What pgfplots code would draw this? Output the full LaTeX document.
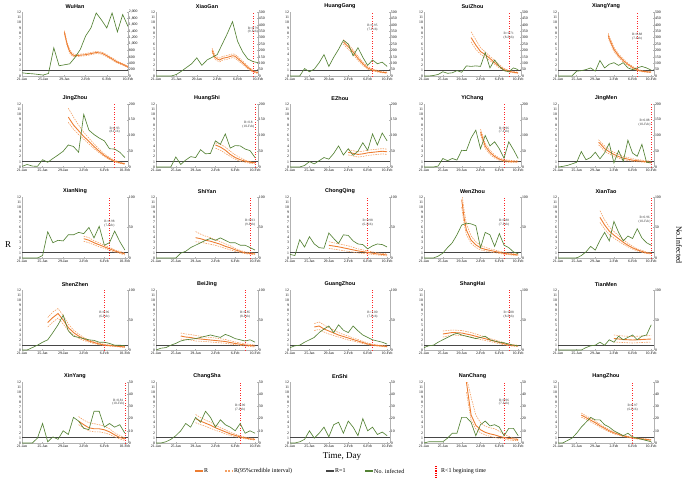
\documentclass[border=0pt]{standalone}
\usepackage{fontspec}
\setmainfont{Liberation Serif}
\newfontfamily\titlefont{Liberation Sans}
\usepackage{pgfplots}
\pgfplotsset{compat=1.18}
\definecolor{orR}{RGB}{237,125,49}
\definecolor{orC}{RGB}{243,160,100}
\definecolor{grn}{RGB}{84,130,53}
\definecolor{gry}{RGB}{70,70,70}
\tikzset{anno/.style={font=\fontsize{3.4}{3.8}\selectfont, align=center, text=black!80, inner sep=0.5pt}}
\pgfplotsset{
 cell/.style n args={4}{at={(#1bp,-#2bp)},width=#3bp,height=#4bp},
 base/.style={scale only axis, anchor=south west, xmin=0, xmax=20.6, clip mode=individual,
   /pgf/number format/assume math mode=true,
   tick label style={font=\fontsize{3.8}{4}\selectfont, inner sep=0.8pt},
   axis line style={gray!60, line width=0.3pt}, tick style={gray!60, line width=0.3pt}, major tick length=1.2pt},
 lax/.style={base, ymin=0, ymax=12, ytick={0,1,...,12}, axis y line*=left, axis x line*=bottom,
   xtick={0,4,8,12,16,20}, xticklabels={21-Jan,25-Jan,29-Jan,2-Feb,6-Feb,10-Feb},
   x tick label style={yshift=-0.8pt},
   title style={font=\titlefont\bfseries\fontsize{5.5}{6}\selectfont, inner sep=0pt, yshift=-3pt}},
 rax/.style={base, ymin=0, axis y line*=right, axis x line=none, xtick=\empty},
 one/.style={gry, line width=1pt},
 rr/.style={orR, line width=0.9pt},
 ci/.style={orC, dash pattern=on 1.5pt off 1pt, line width=0.6pt},
 gl/.style={grn, line width=0.65pt},
 rl/.style={red!85, dotted, line width=0.5pt},
}
\newcommand{\one}{\addplot[one] coordinates {(0,1)(20.6,1)};}
\newcommand{\redl}[3]{\addplot[rl] coordinates {(#1,0)(#1,12)};\node[anno] at (axis cs:#1,#2) {#3};}
\newcommand{\redlE}[3]{\addplot[rl] coordinates {(#1,0)(#1,12)};\node[anno, anchor=east] at (axis cs:#1,#2) {#3};}
\begin{document}
\begin{tikzpicture}
\useasboundingbox (0,0) rectangle (685bp,-480bp);
% ===== Row 1 =====
\begin{axis}[lax, cell={22}{76}{106}{64}, xmax=20, title=WuHan]
\one
\addplot[ci] coordinates {(8,8.5)(8.5,6.3)(9,4.9)(9.5,4.25)(10,4.0)(11,4.1)(12,4.2)(13,4.4)(14,4.6)(15,4.5)(16,4.0)(17,3.4)(18,2.8)(19,2.35)(20,1.85)};
\addplot[ci] coordinates {(8,7.9)(8.5,5.7)(9,4.3)(9.5,3.75)(10,3.6)(11,3.7)(12,3.8)(13,4.0)(14,4.2)(15,4.1)(16,3.6)(17,3.0)(18,2.4)(19,2.05)(20,1.55)};
\addplot[rr] coordinates {(8,8.2)(8.5,6.0)(9,4.6)(9.5,4.0)(10,3.8)(11,3.9)(12,4.0)(13,4.2)(14,4.4)(15,4.3)(16,3.8)(17,3.2)(18,2.6)(19,2.2)(20,1.7)};
\end{axis}
\begin{axis}[rax, cell={22}{76}{106}{64}, xmax=20, ymax=2000, ytick={0,200,...,2000}]
\addplot[gl] coordinates {(0,100)(1,80)(2,70)(3,50)(4,30)(5,80)(6,880)(7,320)(8,350)(9,380)(10,580)(11,830)(12,1250)(13,1500)(14,1970)(15,1750)(16,1500)(17,1970)(18,1380)(19,1920)(20,1550)};
\end{axis}

\begin{axis}[lax, cell={156}{76}{102}{64}, xmax=20, title=XiaoGan]
\one
\addplot[ci] coordinates {(11,5.2)(11.5,4.0)(12,3.55)(12.5,3.35)(13,3.65)(14,3.85)(15,4.15)(15.5,4.05)(16,3.65)(17,2.8)(18,1.85)(19,1.05)(20,0.75)};
\addplot[ci] coordinates {(11,4.4)(11.5,3.2)(12,2.85)(12.5,2.65)(13,2.95)(14,3.15)(15,3.45)(15.5,3.35)(16,2.95)(17,2.2)(18,1.35)(19,0.75)(20,0.45)};
\addplot[rr] coordinates {(11,4.8)(11.5,3.6)(12,3.2)(12.5,3.0)(13,3.3)(14,3.5)(15,3.8)(15.5,3.7)(16,3.3)(17,2.5)(18,1.6)(19,0.9)(20,0.6)};
\redl{19}{8.6}{R=0.79\\(9-Feb)}
\end{axis}
\begin{axis}[rax, cell={156}{76}{102}{64}, xmax=20, ymax=500, ytick={0,50,...,500}]
\addplot[gl] coordinates {(0,0)(1,0)(2,0)(3,0)(4,12)(5,38)(6,67)(7,96)(8,142)(9,83)(10,125)(11,146)(12,167)(13,250)(14,333)(15,425)(16,271)(17,188)(18,133)(19,113)(20,104)};
\end{axis}

\begin{axis}[lax, cell={290}{76}{100}{64}, title=HuangGang]
\one
\addplot[ci] coordinates {(11,6.8)(12,6.0)(13,4.9)(14,3.7)(15,2.6)(16,1.8)(17,1.3)(18,1.05)(19,0.85)(20,0.75)};
\addplot[ci] coordinates {(11,6.0)(12,5.0)(13,4.1)(14,2.9)(15,2.0)(16,1.3)(17,0.95)(18,0.75)(19,0.6)(20,0.5)};
\addplot[rr] coordinates {(11,6.4)(12,5.5)(13,4.5)(14,3.3)(15,2.3)(16,1.5)(17,1.1)(18,0.9)(19,0.7)(20,0.6)};
\redl{17}{9}{R=0.95\\(7-Feb)}
\end{axis}
\begin{axis}[rax, cell={290}{76}{100}{64}, ymax=500, ytick={0,50,...,500}]
\addplot[gl] coordinates {(0,0)(1,0)(2,0)(3,58)(4,33)(5,54)(6,104)(7,167)(8,75)(9,146)(10,208)(11,279)(12,250)(13,158)(14,221)(15,146)(16,83)(17,125)(18,96)(19,108)(20,75)};
\end{axis}

\begin{axis}[lax, cell={424}{76}{97}{64}, title=SuiZhou]
\one
\addplot[ci] coordinates {(10,8.3)(11,6.8)(12,5.3)(13,4.5)(14,3.7)(15,2.9)(16,2.1)(17,1.4)(18,1.05)(19,0.85)(20,0.7)};
\addplot[ci] coordinates {(10,6.4)(11,5.0)(12,4.1)(13,3.5)(14,2.9)(15,2.2)(16,1.5)(17,1.0)(18,0.75)(19,0.6)(20,0.5)};
\addplot[rr] coordinates {(10,7.2)(11,5.8)(12,4.6)(13,4.0)(14,3.3)(15,2.5)(16,1.8)(17,1.2)(18,0.9)(19,0.7)(20,0.6)};
\redl{18}{7.5}{R=0.71\\(8-Feb)}
\end{axis}
\begin{axis}[rax, cell={424}{76}{97}{64}, ymax=500, ytick={0,50,...,500}]
\addplot[gl] coordinates {(0,0)(1,0)(2,4)(3,12)(4,33)(5,21)(6,25)(7,42)(8,29)(9,79)(10,75)(11,79)(12,75)(13,183)(14,63)(15,125)(16,75)(17,42)(18,33)(19,63)(20,50)};
\end{axis}

\begin{axis}[lax, cell={558}{76}{96}{64}, title=XiangYang]
\one
\addplot[ci] coordinates {(10.8,8.0)(11,7.4)(12,5.4)(13,4.1)(14,3.2)(15,2.4)(16,1.8)(17,1.3)(18,1.0)(19,0.9)(20,0.8)};
\addplot[ci] coordinates {(10.8,7.2)(11,6.6)(12,4.6)(13,3.5)(14,2.6)(15,2.0)(16,1.4)(17,1.0)(18,0.8)(19,0.7)(20,0.6)};
\addplot[rr] coordinates {(10.8,7.6)(11,7.0)(12,5.0)(13,3.8)(14,2.9)(15,2.2)(16,1.6)(17,1.15)(18,0.9)(19,0.8)(20,0.7)};
\redl{17}{7.3}{R=0.88\\(7-Feb)}
\end{axis}
\begin{axis}[rax, cell={558}{76}{96}{64}, ymax=500, ytick={0,50,...,500}]
\addplot[gl] coordinates {(0,0)(1,0)(2,0)(3,0)(4,38)(5,42)(6,50)(7,63)(8,38)(9,121)(10,63)(11,92)(12,104)(13,83)(14,104)(15,63)(16,50)(17,63)(18,75)(19,63)(20,46)};
\end{axis}

% ===== Row 2 =====
\begin{axis}[lax, cell={22}{167}{106}{63}, title=JingZhou]
\one
\addplot[ci] coordinates {(9,11.2)(10,9.5)(11,8.0)(12,6.6)(13,5.5)(14,4.4)(15,3.4)(16,2.5)(17,1.8)(18,1.3)(19,0.9)(20,0.7)};
\addplot[ci] coordinates {(9,8.5)(10,7.2)(11,6.2)(12,5.3)(13,4.4)(14,3.5)(15,2.7)(16,2.0)(17,1.4)(18,1.0)(19,0.7)(20,0.5)};
\addplot[rr] coordinates {(9,9.5)(10,8.0)(11,6.9)(12,5.8)(13,4.9)(14,3.9)(15,3.0)(16,2.2)(17,1.6)(18,1.1)(19,0.8)(20,0.6)};
\redl{18}{7}{R=0.93\\(8-Feb)}
\end{axis}
\begin{axis}[rax, cell={22}{167}{106}{63}, ymax=200, ytick={0,50,...,200}]
\addplot[gl] coordinates {(0,2)(1,8)(2,3)(3,2)(4,23)(5,15)(6,27)(7,38)(8,50)(9,70)(10,65)(11,47)(12,167)(13,117)(14,103)(15,92)(16,83)(17,58)(18,57)(19,47)(20,30)};
\end{axis}

\begin{axis}[lax, cell={156}{167}{102}{63}, title=HuangShi]
\one
\addplot[ci] coordinates {(12,4.6)(13,4.3)(14,3.8)(15,3.0)(16,2.3)(17,1.8)(18,1.3)(19,1.0)(20,0.9)};
\addplot[ci] coordinates {(12,3.6)(13,3.2)(14,2.6)(15,2.0)(16,1.5)(17,1.1)(18,0.9)(19,0.7)(20,0.6)};
\addplot[rr] coordinates {(12,4.2)(13,3.8)(14,3.2)(15,2.4)(16,1.8)(17,1.4)(18,1.1)(19,0.9)(20,0.8)};
\redlE{20}{8}{R=0.8\\(10-Feb)}
\end{axis}
\begin{axis}[rax, cell={156}{167}{102}{63}, ymax=200, ytick={0,50,...,200}]
\addplot[gl] coordinates {(0,0)(1,0)(2,0)(3,0)(4,32)(5,8)(6,22)(7,33)(8,30)(9,55)(10,42)(11,43)(12,83)(13,72)(14,105)(15,60)(16,68)(17,67)(18,57)(19,52)(20,30)};
\end{axis}

\begin{axis}[lax, cell={290}{167}{100}{63}, title=EZhou]
\one
\addplot[ci] coordinates {(12,3.3)(13,3.1)(14,2.9)(15,3.0)(16,3.2)(17,3.3)(18,3.4)(19,3.5)(20,3.4)};
\addplot[ci] coordinates {(12,2.3)(13,2.1)(14,1.9)(15,2.0)(16,2.2)(17,2.3)(18,2.4)(19,2.5)(20,2.4)};
\addplot[rr] coordinates {(12,2.8)(13,2.6)(14,2.4)(15,2.5)(16,2.7)(17,2.8)(18,2.9)(19,3.0)(20,2.9)};
\end{axis}
\begin{axis}[rax, cell={290}{167}{100}{63}, ymax=200, ytick={0,50,...,200}]
\addplot[gl] coordinates {(0,0)(1,0)(2,0)(3,5)(4,17)(5,10)(6,20)(7,30)(8,25)(9,43)(10,67)(11,38)(12,58)(13,37)(14,50)(15,77)(16,53)(17,105)(18,70)(19,108)(20,83)};
\end{axis}

\begin{axis}[lax, cell={424}{167}{97}{63}, title=YiChang]
\one
\addplot[ci] coordinates {(12,7.2)(13,4.5)(14,3.2)(15,2.3)(16,1.7)(17,1.4)(18,1.3)(19,1.2)(20,1.2)};
\addplot[ci] coordinates {(12,6.2)(13,3.5)(14,2.4)(15,1.7)(16,1.3)(17,1.0)(18,0.9)(19,0.9)(20,0.9)};
\addplot[rr] coordinates {(12,6.7)(13,4.0)(14,2.8)(15,2.0)(16,1.5)(17,1.2)(18,1.1)(19,1.0)(20,1.0)};
\redl{17}{7}{R=0.96\\(7-Feb)}
\end{axis}
\begin{axis}[rax, cell={424}{167}{97}{63}, ymax=200, ytick={0,50,...,200}]
\addplot[gl] coordinates {(0,0)(1,0)(2,0)(3,3)(4,27)(5,20)(6,27)(7,22)(8,53)(9,52)(10,92)(11,117)(12,58)(13,100)(14,67)(15,80)(16,58)(17,28)(18,80)(19,55)(20,27)};
\end{axis}

\begin{axis}[lax, cell={558}{167}{96}{63}, title=JingMen]
\one
\addplot[ci] coordinates {(8.7,5.2)(9,4.9)(10,4.0)(11,3.3)(12,2.8)(13,2.4)(14,2.0)(15,1.8)(16,1.6)(17,1.4)(18,1.3)(19,1.2)(20,1.1)};
\addplot[ci] coordinates {(8.7,4.2)(9,4.0)(10,3.0)(11,2.5)(12,2.0)(13,1.7)(14,1.4)(15,1.25)(16,1.1)(17,1.0)(18,0.95)(19,0.85)(20,0.75)};
\addplot[rr] coordinates {(8.7,4.7)(9,4.5)(10,3.5)(11,2.9)(12,2.4)(13,2.0)(14,1.7)(15,1.5)(16,1.3)(17,1.2)(18,1.1)(19,1.0)(20,0.9)};
\redlE{20}{8.4}{R=0.88\\(10-Feb)}
\end{axis}
\begin{axis}[rax, cell={558}{167}{96}{63}, ymax=200, ytick={0,50,...,200}]
\addplot[gl] coordinates {(0,0)(1,2)(2,5)(3,10)(4,15)(5,49)(6,23)(7,30)(8,47)(9,26)(10,45)(11,75)(12,13)(13,52)(14,18)(15,85)(16,44)(17,34)(18,72)(19,15)(20,13)};
\end{axis}

% ===== Row 3 =====
\begin{axis}[lax, cell={22}{258}{106}{61}, title=XianNing]
\one
\addplot[ci] coordinates {(12,4.3)(13,4.0)(14,3.4)(15,3.0)(16,2.5)(17,2.1)(18,1.6)(19,1.3)(20,1.0)};
\addplot[ci] coordinates {(12,3.3)(13,3.0)(14,2.6)(15,2.2)(16,1.9)(17,1.5)(18,1.2)(19,0.9)(20,0.6)};
\addplot[rr] coordinates {(12,3.8)(13,3.5)(14,3.0)(15,2.6)(16,2.2)(17,1.8)(18,1.4)(19,1.1)(20,0.8)};
\redl{17}{6.8}{R=0.98\\(7-Feb)}
\end{axis}
\begin{axis}[rax, cell={22}{258}{106}{61}, ymax=100, ytick={0,50,100}]
\addplot[gl] coordinates {(0,0)(1,0)(2,0)(3,0)(4,4)(5,43)(6,25)(7,29)(8,28)(9,38)(10,38)(11,42)(12,40)(13,50)(14,33)(15,52)(16,21)(17,25)(18,44)(19,27)(20,13)};
\end{axis}

\begin{axis}[lax, cell={156}{258}{102}{61}, title=ShiYan]
\one
\addplot[ci] coordinates {(8,5.2)(9,4.7)(10,4.3)(11,4.0)(12,3.6)(13,3.2)(14,2.8)(15,2.4)(16,1.9)(17,1.5)(18,1.2)(19,1.05)(20,0.95)};
\addplot[ci] coordinates {(8,3.2)(9,3.1)(10,2.9)(11,2.7)(12,2.5)(13,2.2)(14,1.9)(15,1.6)(16,1.3)(17,1.1)(18,0.85)(19,0.75)(20,0.65)};
\addplot[rr] coordinates {(8,4.0)(9,3.8)(10,3.5)(11,3.3)(12,3.0)(13,2.7)(14,2.3)(15,2.0)(16,1.6)(17,1.3)(18,1.0)(19,0.9)(20,0.8)};
\redl{19}{7}{R=0.93\\(9-Feb)}
\end{axis}
\begin{axis}[rax, cell={156}{258}{102}{61}, ymax=100, ytick={0,50,100}]
\addplot[gl] coordinates {(0,0)(1,0)(2,0)(3,0)(4,0)(5,8)(6,11)(7,17)(8,21)(9,25)(10,29)(11,32)(12,29)(13,33)(14,29)(15,25)(16,25)(17,21)(18,21)(19,17)(20,13)};
\end{axis}

\begin{axis}[lax, cell={290}{258}{100}{61}, title=ChongQing]
\one
\addplot[ci] coordinates {(8,3.2)(10,2.8)(12,2.4)(14,1.8)(16,1.4)(18,1.0)(20,0.8)};
\addplot[ci] coordinates {(8,1.9)(10,1.6)(12,1.3)(14,1.0)(16,0.8)(18,0.6)(20,0.4)};
\addplot[rr] coordinates {(8,2.5)(10,2.2)(12,1.8)(14,1.4)(16,1.1)(18,0.8)(20,0.6)};
\redl{16}{7}{R=0.98\\(6-Feb)}
\end{axis}
\begin{axis}[rax, cell={290}{258}{100}{61}, ymax=100, ytick={0,50,100}]
\addplot[gl] coordinates {(0,6)(1,4)(2,30)(3,18)(4,35)(5,23)(6,17)(7,16)(8,41)(9,32)(10,24)(11,38)(12,37)(13,28)(14,23)(15,22)(16,15)(17,20)(18,23)(19,22)(20,18)};
\end{axis}

\begin{axis}[lax, cell={424}{258}{97}{61}, title=WenZhou]
\one
\addplot[ci] coordinates {(8,13)(8.5,9.5)(9,6.8)(10,4.3)(11,3.2)(12,2.5)(13,2.1)(14,1.8)(15,1.6)(16,1.3)(17,1.1)(18,0.95)(19,0.85)(20,0.75)};
\addplot[ci] coordinates {(8,10)(8.5,6.8)(9,4.6)(10,2.9)(11,2.1)(12,1.6)(13,1.4)(14,1.2)(15,1.05)(16,0.9)(17,0.75)(18,0.65)(19,0.55)(20,0.5)};
\addplot[rr] coordinates {(8,11.5)(8.5,8.0)(9,5.5)(10,3.5)(11,2.6)(12,2.0)(13,1.7)(14,1.5)(15,1.3)(16,1.1)(17,0.9)(18,0.8)(19,0.7)(20,0.6)};
\redl{17}{7}{R=0.88\\(7-Feb)}
\end{axis}
\begin{axis}[rax, cell={424}{258}{97}{61}, ymax=100, ytick={0,50,100}]
\addplot[gl] coordinates {(0,0)(1,0)(2,0)(3,3)(4,8)(5,17)(6,25)(7,38)(8,54)(9,57)(10,56)(11,53)(12,17)(13,42)(14,38)(15,19)(16,40)(17,21)(18,17)(19,10)(20,7)};
\end{axis}

\begin{axis}[lax, cell={558}{258}{96}{61}, title=XianTao]
\one
\addplot[ci] coordinates {(9,9.3)(10,7.5)(11,6.1)(12,5.2)(13,4.4)(14,3.6)(15,2.9)(16,2.3)(17,1.8)(18,1.5)(19,1.15)(20,1.0)};
\addplot[ci] coordinates {(9,7.0)(10,5.7)(11,4.6)(12,3.9)(13,3.3)(14,2.7)(15,2.2)(16,1.75)(17,1.4)(18,1.1)(19,0.87)(20,0.78)};
\addplot[rr] coordinates {(9,8.0)(10,6.5)(11,5.3)(12,4.5)(13,3.8)(14,3.1)(15,2.5)(16,2.0)(17,1.6)(18,1.3)(19,1.0)(20,0.9)};
\redlE{20}{7.5}{R=0.96\\(10-Feb)}
\end{axis}
\begin{axis}[rax, cell={558}{258}{96}{61}, ymax=100, ytick={0,50,100}]
\addplot[gl] coordinates {(0,0)(1,0)(2,0)(3,0)(4,0)(5,4)(6,10)(7,19)(8,13)(9,29)(10,42)(11,28)(12,60)(13,42)(14,28)(15,36)(16,32)(17,48)(18,33)(19,25)(20,21)};
\end{axis}

% ===== Row 4 =====
\begin{axis}[lax, cell={22}{350}{106}{60}, title=ShenZhen]
\one
\addplot[ci] coordinates {(5,6.5)(6,7.6)(7,8.3)(8,6.9)(9,5.2)(10,4.0)(11,3.2)(12,2.5)(13,2.0)(14,1.7)(15,1.35)(16,1.15)(17,1.0)(18,0.9)(19,0.8)(20,0.7)};
\addplot[ci] coordinates {(5,4.6)(6,5.6)(7,6.4)(8,5.2)(9,3.9)(10,3.0)(11,2.4)(12,1.9)(13,1.6)(14,1.3)(15,1.05)(16,0.88)(17,0.78)(18,0.7)(19,0.6)(20,0.5)};
\addplot[rr] coordinates {(5,5.5)(6,6.5)(7,7.3)(8,6.0)(9,4.5)(10,3.5)(11,2.8)(12,2.2)(13,1.8)(14,1.5)(15,1.2)(16,1.0)(17,0.9)(18,0.8)(19,0.7)(20,0.6)};
\redl{16}{7}{R=0.96\\(6-Feb)}
\end{axis}
\begin{axis}[rax, cell={22}{350}{106}{60}, ymax=100, ytick={0,50,100}]
\addplot[gl] coordinates {(0,0)(1,0)(2,4)(3,8)(4,13)(5,17)(6,29)(7,42)(8,58)(9,32)(10,23)(11,21)(12,19)(13,17)(14,16)(15,13)(16,13)(17,11)(18,8)(19,8)(20,7)};
\end{axis}

\begin{axis}[lax, cell={156}{350}{102}{60}, title=BeiJing]
\one
\addplot[ci] coordinates {(5,3.4)(6,3.2)(7,3.1)(8,2.9)(10,2.6)(12,2.4)(14,2.1)(16,1.6)(18,1.25)(20,1.0)};
\addplot[ci] coordinates {(5,2.2)(6,2.1)(7,2.0)(8,1.8)(10,1.7)(12,1.5)(14,1.35)(16,1.05)(18,0.8)(20,0.6)};
\addplot[rr] coordinates {(5,2.8)(6,2.6)(7,2.5)(8,2.3)(10,2.1)(12,1.9)(14,1.7)(16,1.3)(18,1.0)(20,0.8)};
\redl{18}{7}{R=0.85\\(8-Feb)}
\end{axis}
\begin{axis}[rax, cell={156}{350}{102}{60}, ymax=100, ytick={0,50,100}]
\addplot[gl] coordinates {(0,0)(1,3)(2,4)(3,8)(4,11)(5,15)(6,17)(7,18)(8,19)(9,21)(10,23)(11,25)(12,23)(13,21)(14,26)(15,23)(16,19)(17,17)(18,15)(19,17)(20,13)};
\end{axis}

\begin{axis}[lax, cell={290}{350}{100}{60}, title=GuangZhou]
\one
\addplot[ci] coordinates {(5,5.3)(6,5.6)(7,5.0)(8,4.5)(9,4.0)(10,3.5)(11,3.1)(12,2.8)(13,2.4)(14,2.1)(15,1.75)(16,1.4)(17,1.15)(18,1.0)(19,0.9)(20,0.8)};
\addplot[ci] coordinates {(5,3.9)(6,4.1)(7,3.6)(8,3.2)(9,2.9)(10,2.6)(11,2.3)(12,2.0)(13,1.8)(14,1.55)(15,1.3)(16,1.05)(17,0.88)(18,0.78)(19,0.7)(20,0.6)};
\addplot[rr] coordinates {(5,4.6)(6,4.8)(7,4.2)(8,3.8)(9,3.4)(10,3.0)(11,2.7)(12,2.4)(13,2.1)(14,1.8)(15,1.5)(16,1.2)(17,1.0)(18,0.9)(19,0.8)(20,0.7)};
\redl{17}{7}{R=1.00\\(7-Feb)}
\end{axis}
\begin{axis}[rax, cell={290}{350}{100}{60}, ymax=100, ytick={0,50,100}]
\addplot[gl] coordinates {(0,4)(1,7)(2,8)(3,13)(4,17)(5,21)(6,29)(7,35)(8,40)(9,29)(10,42)(11,33)(12,29)(13,40)(14,32)(15,25)(16,21)(17,17)(18,15)(19,13)(20,10)};
\end{axis}

\begin{axis}[lax, cell={424}{350}{97}{60}, title=ShangHai]
\one
\addplot[ci] coordinates {(4,3.8)(6,4.0)(8,3.9)(10,3.5)(12,2.9)(14,2.3)(16,1.75)(18,1.2)(20,0.95)};
\addplot[ci] coordinates {(4,2.6)(6,3.0)(8,2.9)(10,2.6)(12,2.1)(14,1.7)(16,1.25)(18,0.85)(20,0.65)};
\addplot[rr] coordinates {(4,3.2)(6,3.5)(8,3.4)(10,3.0)(12,2.5)(14,2.0)(16,1.5)(18,1.0)(20,0.8)};
\redl{18}{7}{R=0.88\\(8-Feb)}
\end{axis}
\begin{axis}[rax, cell={424}{350}{97}{60}, ymax=100, ytick={0,50,100}]
\addplot[gl] coordinates {(0,4)(1,7)(2,8)(3,13)(4,17)(5,21)(6,25)(7,28)(8,25)(9,23)(10,21)(11,19)(12,21)(13,23)(14,17)(15,15)(16,13)(17,12)(18,10)(19,8)(20,7)};
\end{axis}

\begin{axis}[lax, cell={558}{350}{96}{60}, title=TianMen]
\one
\addplot[ci] coordinates {(12,3.0)(14,2.8)(16,2.7)(18,2.8)(20,2.9)};
\addplot[ci] coordinates {(12,1.6)(14,1.5)(16,1.4)(18,1.5)(20,1.6)};
\addplot[rr] coordinates {(12,2.3)(14,2.1)(16,2.0)(18,2.1)(20,2.2)};
\end{axis}
\begin{axis}[rax, cell={558}{350}{96}{60}, ymax=100, ytick={0,50,100}]
\addplot[gl] coordinates {(0,0)(1,0)(2,0)(3,0)(4,0)(5,0)(6,4)(7,7)(8,8)(9,13)(10,8)(11,17)(12,13)(13,23)(14,17)(15,21)(16,25)(17,17)(18,23)(19,25)(20,42)};
\end{axis}

% ===== Row 5 =====
\begin{axis}[lax, cell={22}{443}{106}{61}, title=XinYang]
\one
\addplot[ci] coordinates {(11,5.2)(12,4.5)(13,4.0)(14,3.8)(15,3.6)(16,3.3)(17,2.8)(18,2.0)(19,1.5)(20,1.0)};
\addplot[ci] coordinates {(11,3.6)(12,3.0)(13,2.4)(14,2.2)(15,2.2)(16,2.0)(17,1.7)(18,1.2)(19,0.8)(20,0.5)};
\addplot[rr] coordinates {(11,4.3)(12,3.6)(13,3.0)(14,2.8)(15,2.8)(16,2.6)(17,2.2)(18,1.6)(19,1.1)(20,0.8)};
\redlE{20}{8}{R=0.81\\(10-Feb)}
\end{axis}
\begin{axis}[rax, cell={22}{443}{106}{61}, ymax=50, ytick={0,10,...,50}]
\addplot[gl] coordinates {(0,0)(1,0)(2,0)(3,4)(4,16)(5,1)(6,5)(7,3)(8,10)(9,7)(10,21)(11,18)(12,12)(13,11)(14,26)(15,26)(16,13)(17,16)(18,13)(19,15)(20,8)};
\end{axis}

\begin{axis}[lax, cell={156}{443}{102}{61}, title=ChangSha]
\one
\addplot[ci] coordinates {(8,5.6)(9,5.0)(10,4.5)(11,4.1)(12,3.5)(13,3.0)(14,2.6)(15,2.1)(16,1.75)(17,1.4)(18,1.15)(19,0.95)(20,0.85)};
\addplot[ci] coordinates {(8,4.0)(9,3.6)(10,3.3)(11,2.9)(12,2.5)(13,2.2)(14,1.8)(15,1.5)(16,1.25)(17,1.0)(18,0.85)(19,0.7)(20,0.55)};
\addplot[rr] coordinates {(8,4.8)(9,4.3)(10,3.9)(11,3.5)(12,3.0)(13,2.6)(14,2.2)(15,1.8)(16,1.5)(17,1.2)(18,1.0)(19,0.8)(20,0.7)};
\redl{17}{7}{R=0.90\\(7-Feb)}
\end{axis}
\begin{axis}[rax, cell={156}{443}{102}{61}, ymax=50, ytick={0,10,...,50}]
\addplot[gl] coordinates {(0,0)(1,0)(2,1)(3,3)(4,6)(5,10)(6,16)(7,13)(8,21)(9,17)(10,26)(11,21)(12,13)(13,19)(14,15)(15,13)(16,10)(17,16)(18,8)(19,10)(20,8)};
\end{axis}

\begin{axis}[lax, cell={290}{443}{100}{61}, title=EnShi]
\one
\end{axis}
\begin{axis}[rax, cell={290}{443}{100}{61}, ymax=50, ytick={0,10,...,50}]
\addplot[gl] coordinates {(0,0)(1,0)(2,1)(3,3)(4,10)(5,4)(6,8)(7,13)(8,5)(9,15)(10,17)(11,8)(12,18)(13,13)(14,6)(15,20)(16,10)(17,13)(18,7)(19,9)(20,6)};
\end{axis}

\begin{axis}[lax, cell={424}{443}{97}{61}, title=NanChang]
\one
\addplot[ci] coordinates {(9,13)(10,9)(11,5.5)(12,4.0)(13,3.3)(14,3.0)(15,2.8)(16,2.3)(17,1.7)(18,1.3)(19,1.0)(20,0.9)};
\addplot[ci] coordinates {(9,10)(10,4.5)(11,2.8)(12,2.0)(13,1.6)(14,1.3)(15,1.1)(16,0.9)(17,0.8)(18,0.6)(19,0.5)(20,0.5)};
\addplot[rr] coordinates {(9,12)(10,5.5)(11,3.5)(12,2.6)(13,2.1)(14,1.8)(15,1.6)(16,1.3)(17,1.1)(18,0.9)(19,0.8)(20,0.7)};
\redl{17}{8}{R=0.96\\(7-Feb)}
\end{axis}
\begin{axis}[rax, cell={424}{443}{97}{61}, ymax=50, ytick={0,10,...,50}]
\addplot[gl] coordinates {(0,0)(1,1)(2,1)(3,1)(4,1)(5,4)(6,8)(7,8)(8,21)(9,21)(10,17)(11,6)(12,15)(13,18)(14,14)(15,15)(16,13)(17,6)(18,12)(19,12)(20,6)};
\end{axis}

\begin{axis}[lax, cell={558}{443}{96}{61}, title=HangZhou]
\one
\addplot[ci] coordinates {(5,5.9)(6,5.35)(7,4.85)(8,4.3)(9,3.7)(10,3.15)(11,2.6)(12,2.2)(13,1.85)(14,1.55)(15,1.3)(16,1.1)(17,1.0)(18,0.9)(19,0.8)(20,0.7)};
\addplot[ci] coordinates {(5,5.1)(6,4.65)(7,4.15)(8,3.7)(9,3.1)(10,2.65)(11,2.2)(12,1.8)(13,1.55)(14,1.25)(15,1.1)(16,0.9)(17,0.8)(18,0.7)(19,0.6)(20,0.5)};
\addplot[rr] coordinates {(5,5.5)(6,5.0)(7,4.5)(8,4.0)(9,3.4)(10,2.9)(11,2.4)(12,2.0)(13,1.7)(14,1.4)(15,1.2)(16,1.0)(17,0.9)(18,0.8)(19,0.7)(20,0.6)};
\redl{16}{7}{R=0.97\\(6-Feb)}
\end{axis}
\begin{axis}[rax, cell={558}{443}{96}{61}, ymax=50, ytick={0,10,...,50}]
\addplot[gl] coordinates {(0,0)(1,0)(2,2)(3,4)(4,8)(5,13)(6,17)(7,21)(8,19)(9,19)(10,15)(11,13)(12,10)(13,8)(14,6)(15,8)(16,5)(17,4)(18,3)(19,2)(20,1)};
\end{axis}

% ===== global labels and legend =====
\node[font=\fontsize{9}{10}\selectfont] at (8bp,-245bp) {R};
\node[font=\fontsize{8}{9}\selectfont, rotate=-90] at (679bp,-245bp) {No.Infected};
\node[font=\fontsize{9}{10}\selectfont] at (342bp,-456bp) {Time, Day};
\begin{scope}[font=\fontsize{6}{7}\selectfont]
\draw[orR, line width=1.2pt] (195bp,-471bp) -- (203bp,-471bp);
\node[anchor=west, inner sep=1pt] at (203bp,-471bp) {R};
\draw[orC, line width=1.2pt, dash pattern=on 2pt off 1.5pt] (225bp,-471bp) -- (233bp,-471bp);
\node[anchor=west, inner sep=1pt] at (233bp,-471bp) {R(95\%credible interval)};
\draw[gry, line width=1.2pt] (326bp,-471bp) -- (334bp,-471bp);
\node[anchor=west, inner sep=1pt] at (334bp,-471bp) {R=1};
\draw[grn, line width=1.2pt] (365bp,-471bp) -- (373bp,-471bp);
\node[anchor=west, inner sep=1pt] at (373bp,-471bp) {No. infected};
\draw[red, densely dotted, line width=1.2pt] (436bp,-466bp) -- (436bp,-477bp);
\node[anchor=west, inner sep=1pt] at (440bp,-471bp) {R<1 begining time};
\end{scope}
\end{tikzpicture}
\end{document}
